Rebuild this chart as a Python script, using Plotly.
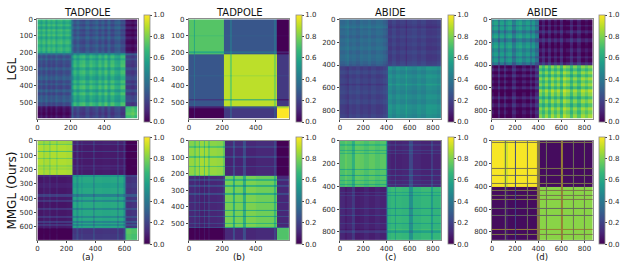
import plotly.graph_objects as go

W, H = 623, 266

TICKS_600 = [0, 100, 200, 300, 400, 500]
TICKS_X600 = [0, 200, 400]
TICKS_870 = [0, 200, 400, 600, 800]

# --- estimated band structure
P1_BLOCK_EDGES = [0, 210, 530, 600]
P1_BLOCKS = [[0.61, 0.27, 0.05], [0.27, 0.61, 0.20], [0.05, 0.20, 0.70]]
P1_EDGES = [0, 15, 30, 45, 60, 75, 90, 105, 120, 135, 150, 170, 190, 205, 215, 235, 250, 270, 290, 310, 330, 345, 365, 385, 400, 420, 440, 460, 480, 500, 525, 535, 560, 580, 600]
P1_DEV = [0.03, -0.03, 0.04, -0.05, 0.05, 0.0, 0.05, -0.04, 0.03, 0.05, -0.02, 0.03, -0.03, -0.12, 0.02, -0.05, 0.03, 0.05, -0.04, 0.04, 0.0, -0.05, 0.04, -0.03, 0.06, -0.05, 0.05, -0.03, -0.05, 0.05, -0.03, 0.0, 0.03, -0.02]

P2_BLOCK_EDGES = [0, 212, 527, 600]
P2_BLOCKS = [[0.73, 0.27, 0.0], [0.27, 0.90, 0.17], [0.0, 0.17, 1.0]]
P2_ROW_EDGES = [0, 95, 100, 195, 205, 212, 260, 335, 342, 480, 490, 515, 527, 535, 600]
P2_ROW_DEV = [0.0, -0.03, 0.0, -0.12, 0.0, 0.0, 0.0, -0.05, 0.0, -0.10, 0.0, 0.0, -0.12, 0.0]
P2_ROW_SHIFT = [0.0, 0.0, 0.0, 0.0, 0.0, 0.0, 0.0, 0.0, 0.0, -0.22, 0.0, 0.0, 0.0, 0.0]
P2_COL_EDGES = [0, 30, 38, 212, 245, 255, 510, 520, 527, 600]
P2_COL_DEV = [0.0, -0.12, 0.0, 0.0, -0.12, 0.0, -0.10, 0.0, 0.0]

P3_BLOCK_EDGES = [0, 405, 870]
P3_BLOCKS = [[0.33, 0.20], [0.21, 0.46]]
P3_EDGES = [0, 40, 60, 80, 100, 140, 170, 200, 240, 270, 310, 340, 370, 395, 410, 450, 480, 520, 560, 570, 580, 620, 660, 700, 740, 790, 830, 870]
P3_DEV = [0.0, 0.02, 0.05, -0.01, 0.01, -0.02, 0.02, 0.0, 0.03, -0.01, 0.02, 0.01, -0.02, -0.05, 0.03, -0.02, 0.03, 0.0, 0.02, 0.08, 0.0, -0.02, 0.02, -0.01, 0.04, 0.03, 0.0]

P4_BLOCK_EDGES = [0, 405, 870]
P4_BLOCKS = [[0.44, 0.08], [0.07, 0.72]]
P4_EDGES = [0, 20, 50, 65, 100, 125, 140, 170, 205, 230, 255, 290, 325, 345, 375, 405, 430, 455, 480, 510, 535, 560, 590, 610, 640, 670, 700, 735, 770, 800, 830, 870]
P4_DEV = [0.0, 0.07, -0.08, 0.06, -0.07, 0.04, 0.08, -0.08, 0.05, 0.08, -0.02, 0.05, -0.06, 0.03, -0.10, 0.03, -0.07, 0.05, -0.07, 0.07, -0.03, 0.06, -0.07, 0.10, 0.04, -0.08, 0.05, -0.06, 0.07, 0.0, 0.07]

A_BLOCK_EDGES = [0, 245, 610, 690]
A_BLOCKS = [[0.82, 0.10, 0.0], [0.10, 0.57, 0.17], [0.0, 0.17, 0.70]]
A_ROW_EDGES = [0, 18, 28, 70, 80, 115, 125, 170, 178, 190, 200, 240, 250, 290, 330, 372, 390, 412, 422, 468, 480, 525, 537, 560, 570, 582, 590, 608, 615, 650, 690]
A_ROW_DEV = [0.0, -0.08, 0.03, -0.12, 0.03, -0.07, 0.03, -0.02, 0.02, 0.0, 0.03, -0.05, 0.02, -0.01, 0.02, -0.14, 0.01, -0.10, 0.03, -0.10, 0.02, -0.10, 0.02, -0.12, 0.02, -0.10, 0.01, -0.06, 0.02, 0.0]
A_COL_EDGES = [0, 40, 48, 82, 92, 128, 136, 200, 240, 250, 270, 282, 300, 308, 345, 383, 393, 450, 500, 550, 558, 595, 605, 615, 650, 690]
A_COL_DEV = [0.03, -0.05, 0.02, -0.07, 0.03, -0.06, 0.03, 0.02, -0.05, 0.0, -0.08, 0.01, -0.06, 0.01, 0.01, -0.16, 0.01, 0.0, 0.01, -0.14, 0.01, -0.08, -0.05, 0.02, 0.0]

B_BLOCK_EDGES = [0, 212, 530, 600]
B_BLOCKS = [[0.77, 0.15, 0.0], [0.15, 0.74, 0.13], [0.0, 0.13, 0.72]]
B_ROW_EDGES = [0, 30, 40, 90, 100, 150, 160, 205, 215, 230, 240, 268, 278, 318, 328, 367, 377, 416, 426, 452, 462, 496, 506, 520, 530, 600]
B_ROW_DEV = [0.02, -0.07, 0.04, -0.08, 0.05, -0.07, 0.04, -0.05, 0.02, -0.10, 0.03, -0.12, 0.03, -0.13, 0.03, -0.10, 0.03, -0.14, 0.03, -0.14, 0.03, -0.10, 0.03, -0.14, 0.0]
B_COL_EDGES = [0, 30, 40, 58, 68, 88, 98, 114, 124, 170, 205, 215, 265, 277, 322, 342, 400, 470, 510, 520, 530, 600]
B_COL_DEV = [0.02, -0.04, 0.03, -0.07, 0.05, -0.08, 0.05, -0.04, 0.03, 0.02, -0.05, 0.02, -0.14, 0.02, -0.14, 0.03, 0.01, 0.01, -0.10, 0.01, 0.0]

C_BLOCK_EDGES = [0, 405, 870]
C_BLOCKS = [[0.69, 0.13], [0.12, 0.63]]
C_ROW_EDGES = [0, 30, 42, 75, 85, 105, 115, 245, 255, 300, 310, 345, 355, 375, 385, 405, 450, 460, 477, 487, 585, 595, 650, 660, 720, 730, 772, 784, 795, 805, 870]
C_ROW_DEV = [0.02, -0.05, 0.02, -0.08, 0.02, -0.06, 0.03, -0.10, 0.02, -0.14, 0.02, -0.06, 0.01, -0.10, 0.0, 0.03, -0.06, 0.02, -0.08, 0.01, -0.12, 0.01, -0.12, 0.02, -0.08, 0.01, 0.05, -0.04, -0.08, 0.02]
C_COL_EDGES = [0, 40, 60, 105, 125, 170, 210, 250, 300, 340, 395, 405, 415, 440, 470, 480, 530, 590, 625, 700, 785, 800, 870]
C_COL_DEV = [0.0, 0.04, 0.01, -0.08, 0.04, 0.03, 0.0, 0.03, 0.0, 0.02, -0.12, -0.12, 0.0, 0.02, -0.08, 0.02, 0.01, -0.14, 0.0, 0.02, -0.10, 0.01]

D_BLOCK_EDGES = [0, 400, 870]
D_BLOCKS = [[0.99, 0.03], [0.03, 0.82]]
D_ROW_EDGES = [0, 10, 18, 240, 248, 300, 308, 372, 380, 400, 435, 443, 472, 480, 513, 521, 587, 595, 650, 658, 774, 782, 814, 822, 870]
D_ROW_DEV = [0.0] * 24
D_ROW_TONE = [None, 0.3, None, 0.3, None, 0.4, None, 0.3, None, None, 0.3, None, 0.4, None, 0.3, None, 0.6, None, 0.6, None, 0.0, None, 0.3, None]
D_COL_EDGES = [0, 105, 115, 125, 135, 197, 207, 305, 313, 385, 400, 418, 470, 478, 600, 615, 699, 707, 795, 803, 834, 842, 870]
D_COL_DEV = [0.0, -0.06, 0.0, -0.06, 0.0, 0.0, 0.0, 0.0, 0.0, 0.0, 0.0, 0.0, 0.0, 0.0, 0.0, 0.0, 0.0, 0.0, 0.0, 0.0, 0.0, 0.0]
D_COL_TONE = [None, None, 0.5, None, None, 1.0, None, 0.5, None, 0.2, 0.2, None, 0.5, None, 0.0, None, 0.5, None, 0.5, None, 0.5, None]

PANELS = [
    dict(be=P1_BLOCK_EDGES, b=P1_BLOCKS, re=P1_EDGES, rd=P1_DEV, ce=P1_EDGES, cd=P1_DEV, m=600, xt=TICKS_X600, yt=TICKS_600, px=(35.5, 136), row=0, cb=142),
    dict(be=P2_BLOCK_EDGES, b=P2_BLOCKS, re=P2_ROW_EDGES, rd=P2_ROW_DEV, ce=P2_COL_EDGES, cd=P2_COL_DEV, rs=P2_ROW_SHIFT, m=600, xt=TICKS_X600, yt=TICKS_600, px=(187.5, 288), row=0, cb=295),
    dict(be=P3_BLOCK_EDGES, b=P3_BLOCKS, re=P3_EDGES, rd=P3_DEV, ce=P3_EDGES, cd=P3_DEV, m=870, xt=TICKS_870, yt=TICKS_870, px=(339, 440.5), row=0, cb=447),
    dict(be=P4_BLOCK_EDGES, b=P4_BLOCKS, re=P4_EDGES, rd=P4_DEV, ce=P4_EDGES, cd=P4_DEV, m=870, xt=TICKS_870, yt=TICKS_870, px=(491.5, 592.5), row=0, cb=599),
    dict(be=A_BLOCK_EDGES, b=A_BLOCKS, re=A_ROW_EDGES, rd=A_ROW_DEV, ce=A_COL_EDGES, cd=A_COL_DEV, m=690, xt=[0, 200, 400, 600], yt=[0, 100, 200, 300, 400, 500, 600], px=(35.5, 136), row=1, cb=142),
    dict(be=B_BLOCK_EDGES, b=B_BLOCKS, re=B_ROW_EDGES, rd=B_ROW_DEV, ce=B_COL_EDGES, cd=B_COL_DEV, m=600, xt=TICKS_X600, yt=TICKS_600, px=(187.5, 288), row=1, cb=295),
    dict(be=C_BLOCK_EDGES, b=C_BLOCKS, re=C_ROW_EDGES, rd=C_ROW_DEV, ce=C_COL_EDGES, cd=C_COL_DEV, m=870, xt=TICKS_870, yt=TICKS_870, px=(339, 440.5), row=1, cb=447),
    dict(be=D_BLOCK_EDGES, b=D_BLOCKS, re=D_ROW_EDGES, rd=D_ROW_DEV, ce=D_COL_EDGES, cd=D_COL_DEV, rt=D_ROW_TONE, ct=D_COL_TONE, m=870, xt=TICKS_870, yt=TICKS_870, px=(491.5, 592.5), row=1, cb=599),
]
TITLES = ["TADPOLE", "TADPOLE", "ABIDE", "ABIDE"]
ROW_LABELS = ["LGL", "MMGL (Ours)"]
SUB_LABELS = ["(a)", "(b)", "(c)", "(d)"]

ROW_PX = [(15.5, 116.5), (139, 239.5)]
CB_PX = [(12, 119), (136, 243)]
TEXT = "#2b2b2b"
FRAME = "#8c8c8c"
FONT = "DejaVu Sans"
OFF_FACTOR = 0.75
STRIPE_SCALE = [[0, "#957f35"], [0.5, "#6c7058"], [1, "#3c4a86"]]


def block_index(edges, v):
    for i in range(len(edges) - 1):
        if edges[i] <= v < edges[i + 1]:
            return i
    return len(edges) - 2


def build(p):
    z = []
    shifts = p.get("rs") or [0.0] * len(p["rd"])
    for i, di in enumerate(p["rd"]):
        mi = (p["re"][i] + p["re"][i + 1]) / 2
        bi = block_index(p["be"], mi)
        row = []
        for j, dj in enumerate(p["cd"]):
            mj = (p["ce"][j] + p["ce"][j + 1]) / 2
            bj = block_index(p["be"], mj)
            sign = 1 if bi == bj else -OFF_FACTOR
            row.append(min(1, max(0, p["b"][bi][bj] + sign * (di + dj) + shifts[i])))
        z.append(row)
    return z


def build_stripes(p):
    out = []
    for rt in p["rt"]:
        row = []
        for ct in p["ct"]:
            if rt is None and ct is None:
                row.append(None)
            elif rt is None:
                row.append(ct)
            elif ct is None:
                row.append(rt)
            else:
                row.append(max(rt, ct))
        out.append(row)
    return out


fig = go.Figure()
layout = {}
for k, p in enumerate(PANELS):
    sfx = "" if k == 0 else str(k + 1)
    y0, y1 = ROW_PX[p["row"]]
    c0, c1 = CB_PX[p["row"]]
    fig.add_trace(go.Heatmap(
        x=p["ce"], y=p["re"], z=build(p), zmin=0, zmax=1, colorscale="Viridis",
        xaxis="x" + sfx, yaxis="y" + sfx, hoverinfo="skip",
        colorbar=dict(
            x=p["cb"] / W, xanchor="left", xpad=0, ypad=0,
            y=1 - (c0 + c1) / 2 / H, yanchor="middle",
            len=c1 - c0, lenmode="pixels", thickness=6, thicknessmode="pixels",
            tickvals=[0, 0.2, 0.4, 0.6, 0.8, 1.0], ticktext=["0.0", "0.2", "0.4", "0.6", "0.8", "1.0"],
            ticks="outside", ticklen=2, tickwidth=0.6, tickcolor="#444",
            tickfont=dict(size=7, color=TEXT, family=FONT),
            outlinecolor=FRAME, outlinewidth=0.8,
        ),
    ))
    if "rt" in p:
        fig.add_trace(go.Heatmap(
            x=p["ce"], y=p["re"], z=build_stripes(p), zmin=0, zmax=1, colorscale=STRIPE_SCALE,
            xaxis="x" + sfx, yaxis="y" + sfx, hoverinfo="skip", showscale=False,
        ))
    common = dict(showgrid=False, zeroline=False, ticks="outside", ticklen=2, tickwidth=0.6,
                  tickcolor="#444", tickfont=dict(size=7, color=TEXT, family=FONT),
                  showline=True, linecolor=FRAME, linewidth=1, mirror=True)
    layout["xaxis" + sfx] = dict(domain=[p["px"][0] / W, p["px"][1] / W], range=[0, p["m"]],
                                 tickvals=p["xt"], anchor="y" + sfx, **common)
    layout["yaxis" + sfx] = dict(domain=[1 - y1 / H, 1 - y0 / H], range=[p["m"], 0],
                                 tickvals=p["yt"], anchor="x" + sfx, **common)

annotations = []
def note(text, x, y, size, angle=0):
    annotations.append(dict(text=text, x=x / W, y=1 - y / H, xref="paper", yref="paper", showarrow=False,
                            xanchor="center", yanchor="middle", textangle=angle,
                            font=dict(size=size, color="#111", family=FONT)))

for t, x in zip(TITLES, [86, 238, 390, 542]):
    note(t, x, 8.5, 10)
for t, y in zip(ROW_LABELS, [66, 189]):
    note(t, 10.5, y, 12, -90)
for t, x in zip(SUB_LABELS, [86, 238, 390, 542]):
    note(t, x, 256.5, 8.5)

fig.update_layout(width=W, height=H, margin=dict(l=0, r=0, t=0, b=0), autosize=False,
                  paper_bgcolor="white", plot_bgcolor="white", annotations=annotations, **layout)
fig.write_html("out.html", config={"displayModeBar": False},
               post_script="document.body.style.margin='0';document.documentElement.style.overflow='hidden';")
